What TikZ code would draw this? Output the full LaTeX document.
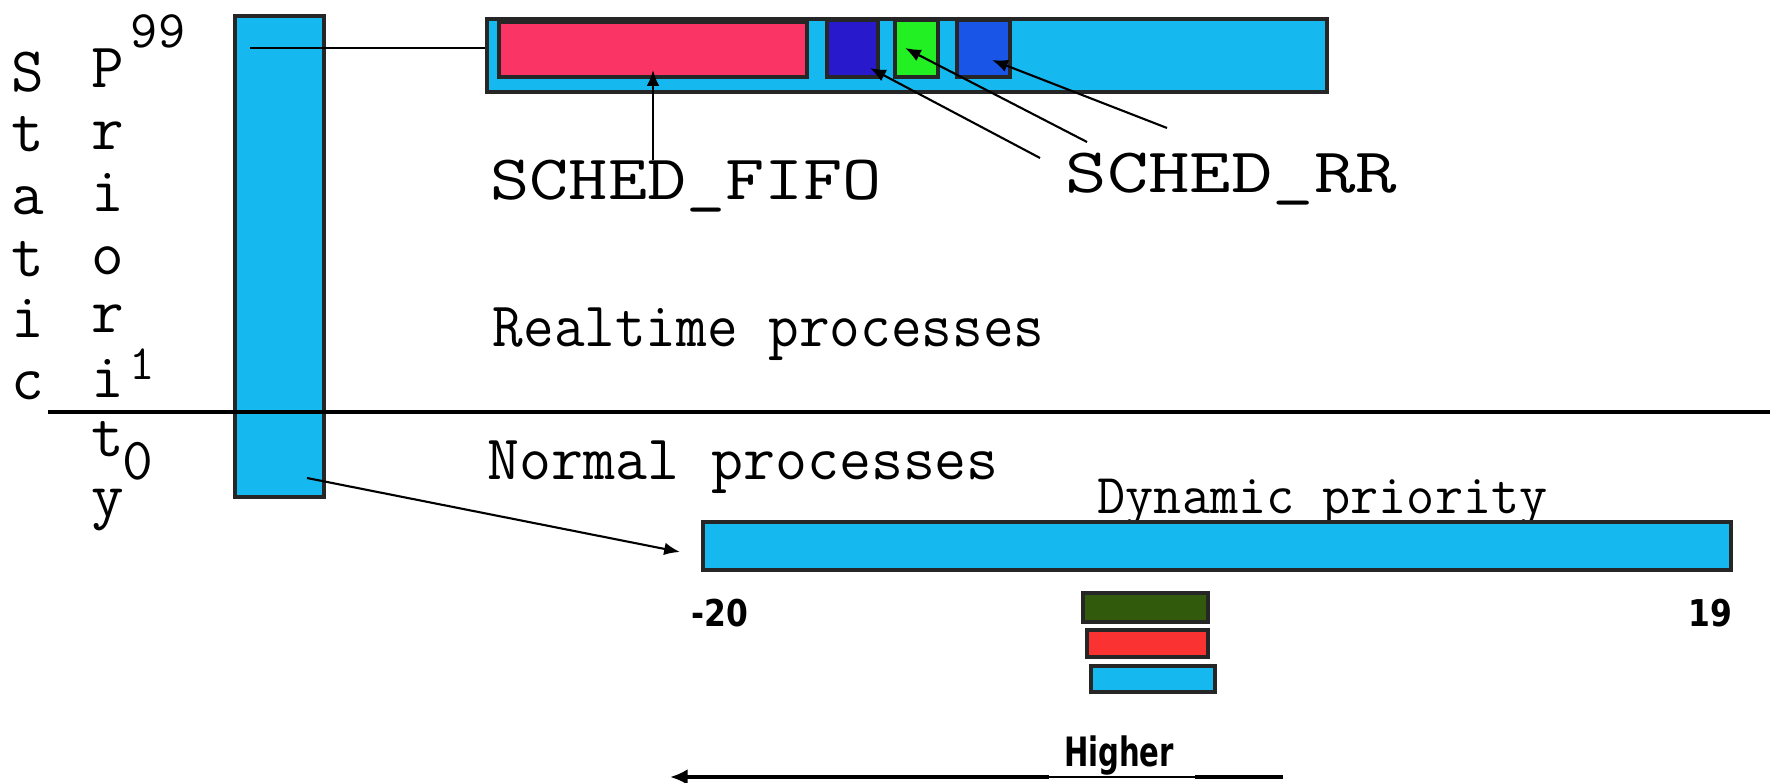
\documentclass[tikz,border=0pt]{standalone}
\usepackage{fontspec}
\newfontfamily\numfont{DejaVu Sans}
\usetikzlibrary{fit,arrows.meta}
\definecolor{qblue}{RGB}{22,184,240}
\definecolor{qred}{RGB}{250,52,100}
\definecolor{qdarkblue}{RGB}{40,25,205}
\definecolor{qgreen}{RGB}{35,240,35}
\definecolor{qmidblue}{RGB}{25,85,230}
\definecolor{qolive}{RGB}{50,90,12}
\definecolor{qlred}{RGB}{250,50,50}
\newcommand\squeeze[2]{\scalebox{#1}[1]{#2}}

\begin{document}
\begin{tikzpicture}[x=0.01cm, y=-0.01cm,
  box/.style={draw=black!85, line width=0.9pt, inner sep=0pt},
  letter/.style={font=\ttfamily\fontsize{18}{18}\selectfont, inner sep=0pt, anchor=base},
  txt/.style={font=\ttfamily\fontsize{18}{18}\selectfont, inner sep=0pt, anchor=base west},
  num/.style={font=\numfont\bfseries\fontsize{10.5}{10.5}\selectfont, inner sep=0pt},
  arr/.style={line width=0.6pt, -{Latex[length=4.5pt, width=3.6pt]}}]
  \useasboundingbox (0,0) rectangle (1777,783);

  % Static priority column
  \foreach \ch/\yy [count=\k] in {S/92, t/152, a/215, t/277, i/338, c/400}
    \node[letter] (st\k) at (28,\yy) {\ch};
  \foreach \ch/\yy [count=\k] in {P/88, r/150, i/212, o/275, r/333, i/398, t/457, y/517}
    \node[letter] (pr\k) at (108,\yy) {\ch};
  \node[letter, font=\ttfamily\fontsize{15}{15}\selectfont] (p99) at (158,48) {99};
  \node[letter, font=\ttfamily\fontsize{14}{14}\selectfont] (p1) at (142,380) {1};
  \node[letter, font=\ttfamily\fontsize{17}{17}\selectfont] (p0) at (138,480) {0};

  % Priority bar and realtime / normal split
  \node[box, fill=qblue, fit={(235,16) (324,497)}] (vbar) {};
  \draw[line width=1.1pt] (48,412) -- (1770,412);

  % Realtime queue
  \node[box, fill=qblue, fit={(487,19) (1327,92)}] (rtq) {};
  \node[box, fill=qred, fit={(499,22) (807,77)}] (fifo) {};
  \node[box, fill=qdarkblue, fit={(827,20) (878,77)}] (rra) {};
  \node[box, fill=qgreen, fit={(895,20) (938,77)}] (rrb) {};
  \node[box, fill=qmidblue, fit={(957,20) (1010,77)}] (rrc) {};
  \coordinate (v99) at (250,48);
  \draw[line width=0.6pt] (v99) -- (v99 -| rtq.west);

  % Labels
  \node[txt] (fifolbl) at (490,200) {\squeeze{1.2}{SCHED\_FIFO}};
  \node[txt] (rrlbl) at (1065,193) {\squeeze{1.27}{SCHED\_RR}};
  \node[txt] (rtlbl) at (492,347) {\squeeze{0.94}{Realtime processes}};
  \node[txt] (nplbl) at (487,480) {\squeeze{0.98}{Normal processes}};
  \node[txt, font=\ttfamily\fontsize{16}{16}\selectfont] (dplbl) at (1097,514) {\squeeze{0.97}{Dynamic priority}};

  % Arrows to the queue entries
  \coordinate (fifotail) at (653,160);
  \coordinate (fifotip) at (653,70);
  \draw[arr] (fifotail) -- (fifotip);
  \coordinate (rratail) at (1040,158);
  \coordinate (rratip) at (870,68);
  \coordinate (rrbtail) at (1087,142);
  \coordinate (rrbtip) at (905,48);
  \coordinate (rrctail) at (1167,128);
  \coordinate (rrctip) at (992,60);
  \draw[arr] (rratail) -- (rratip);
  \draw[arr] (rrbtail) -- (rrbtip);
  \draw[arr] (rrctail) -- (rrctip);

  % Dynamic priority range
  \node[box, fill=qblue, fit={(703,522) (1731,570)}] (dyn) {};
  \coordinate (nptail) at (307,478);
  \coordinate (nptip) at (680,552);
  \draw[arr] (nptail) -- (nptip);
  \node[num] (lo) at (720,613) {\squeeze{0.85}{-20}};
  \node[num] (hi) at (1710,613) {\squeeze{0.85}{19}};

  % Legend boxes
  \node[box, fill=qolive, fit={(1083,593) (1208,622)}] (lgreen) {};
  \node[box, fill=qlred, fit={(1087,630) (1208,657)}] (lred) {};
  \node[box, fill=qblue, fit={(1091,666) (1215,692)}] (lblue) {};

  % Higher priority direction
  \node[num, anchor=base, font=\numfont\bfseries\fontsize{11.5}{11.5}\selectfont] (higher) at (1119,766) {\squeeze{0.72}{Higher}};
  \coordinate (hr) at (1283,777);
  \coordinate (hm) at (1195,777);
  \coordinate (hn) at (1049,777);
  \coordinate (hl) at (670,777);
  \draw[line width=1pt] (hr) -- (hm);
  \draw[line width=0.4pt] (hm) -- (hn);
  \draw[line width=1pt, -{Latex[length=5pt, width=4.5pt]}] (hn) -- (hl);
\end{tikzpicture}
\end{document}
